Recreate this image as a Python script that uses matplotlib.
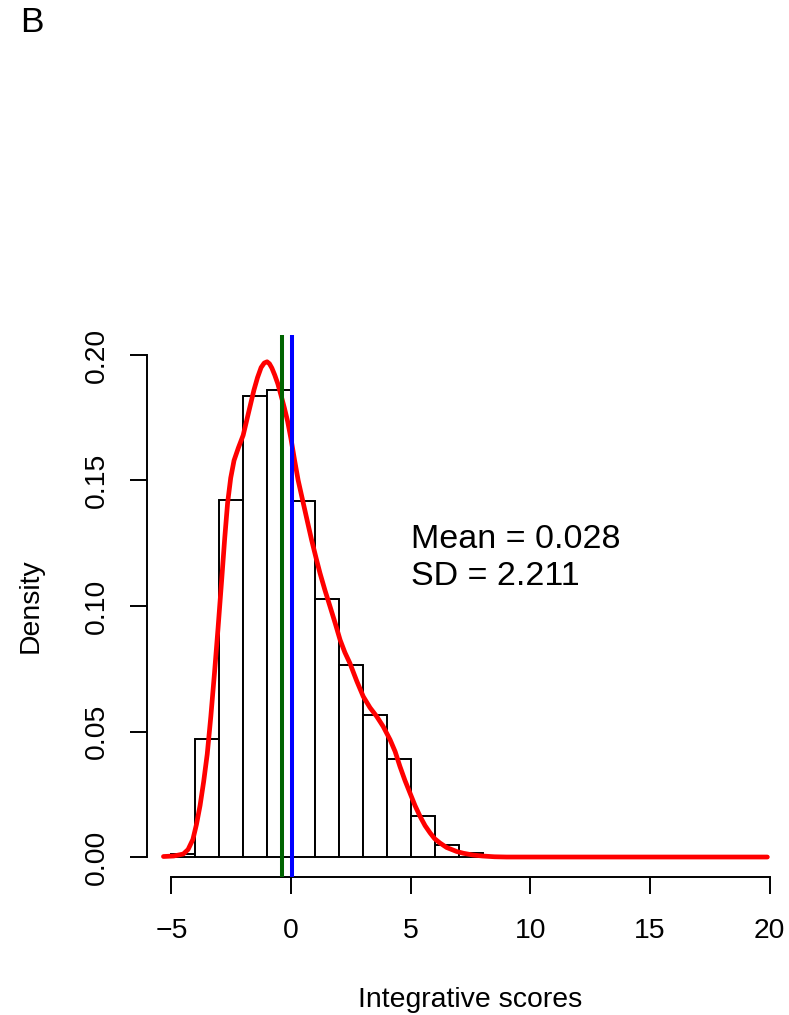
import matplotlib
matplotlib.use("Agg")
import matplotlib.pyplot as plt

plt.rcParams['font.family'] = ['Liberation Sans', 'DejaVu Sans']

# histogram of integrative scores (density scale, bin width 1)
bin_left = [-5, -4, -3, -2, -1, 0, 1, 2, 3, 4, 5, 6, 7]
bin_density = [0.0014, 0.0471, 0.1423, 0.1838, 0.1862, 0.1420, 0.1027,
               0.0766, 0.0567, 0.0391, 0.0162, 0.0047, 0.0016]

# kernel density estimate
kde_x = [-5.33, -4.9, -4.5, -4.3, -4.1, -3.95, -3.8, -3.65, -3.5, -3.35,
         -3.2, -3.05, -2.9, -2.77, -2.65, -2.52, -2.38, -2.2, -2.0, -1.85,
         -1.7, -1.55, -1.4, -1.25, -1.12, -1.0, -0.9, -0.8, -0.68, -0.55,
         -0.42, -0.28, -0.14, 0.0, 0.15, 0.3, 0.5, 0.7, 0.86, 1.05,
         1.21, 1.42, 1.63, 1.85, 2.05, 2.25, 2.46, 2.75, 3.02, 3.3,
         3.58, 3.85, 4.14, 4.35, 4.55, 4.76, 4.97, 5.18, 5.39, 5.6,
         5.81, 6.0, 6.22, 6.5, 6.92, 7.2, 7.6, 8.0, 8.5, 9.0,
         10.0, 19.9]
kde_y = [0.0002, 0.0004, 0.0012, 0.0030, 0.0070, 0.0130, 0.0205, 0.0300, 0.0410, 0.0560,
         0.0730, 0.0910, 0.1100, 0.1270, 0.1410, 0.1510, 0.1580, 0.1630, 0.1680, 0.1740,
         0.1800, 0.1860, 0.1910, 0.1950, 0.1968, 0.1973, 0.1965, 0.1948, 0.1920, 0.1885,
         0.1840, 0.1790, 0.1735, 0.1665, 0.1580, 0.1500, 0.1415, 0.1330, 0.1263, 0.1190,
         0.1131, 0.1062, 0.0998, 0.0930, 0.0865, 0.0815, 0.0772, 0.0700, 0.0639, 0.0595,
         0.0560, 0.0520, 0.0467, 0.0420, 0.0361, 0.0305, 0.0255, 0.0205, 0.0162, 0.0125,
         0.0096, 0.0073, 0.0056, 0.0038, 0.0022, 0.0015, 0.0008, 0.0004, 0.0001, 0.0,
         0.0, 0.0]

score_mean = 0.028
score_median = -0.365
score_sd = 2.211

x_ticks = [-5, 0, 5, 10, 15, 20]
y_ticks = [0.00, 0.05, 0.10, 0.15, 0.20]
y_ticklabels = ['0.00', '0.05', '0.10', '0.15', '0.20']

W, H = 789, 1015
fig = plt.figure(figsize=(W / 100, H / 100), dpi=100)
ax = fig.add_axes([147.4 / W, (H - 877.3) / H, (793.7 - 147.4) / W, 542.6 / H])

ax.bar(bin_left, bin_density, width=1, align='edge', color='white',
       edgecolor='black', linewidth=1.4, zorder=2)
ax.plot(kde_x, kde_y, color='#ff0000', linewidth=3.4, zorder=3,
        solid_joinstyle='round', solid_capstyle='round')
ax.axvline(score_median, color='#006400', linewidth=2.9, zorder=4)
ax.axvline(score_mean, color='#0000ff', linewidth=2.9, zorder=4)

ax.text(5.0, 0.1230, 'Mean = %.3f' % score_mean, fontsize=24.5,
        ha='left', va='baseline')
ax.text(5.0, 0.1084, 'SD = %.3f' % score_sd, fontsize=24.5,
        ha='left', va='baseline')

ax.set_xlim(-6, 21)
ax.set_ylim(-0.00808, 0.20808)

# R-style axes: only the left and bottom lines, limited to the tick range
for side in ['top', 'right']:
    ax.spines[side].set_visible(False)
ax.spines['left'].set_bounds(0, 0.2)
ax.spines['bottom'].set_bounds(-5, 20)
for side in ['left', 'bottom']:
    ax.spines[side].set_linewidth(1.4)

ax.set_xticks(x_ticks)
ax.set_yticks(y_ticks)
ax.set_yticklabels(y_ticklabels, rotation=90, va='center')
ax.tick_params(axis='both', length=12.2, width=1.4, labelsize=20.4)
ax.tick_params(axis='x', pad=17)
ax.tick_params(axis='y', pad=15)

fig.text(470.6 / W, 1 - 1006.7 / H, 'Integrative scores', fontsize=20.4,
         ha='center', va='baseline')
fig.text(38 / W, 1 - 606 / H, 'Density', fontsize=20.4, rotation=90,
         rotation_mode='anchor', ha='center', va='baseline')
fig.text(20 / W, 1 - 32.3 / H, 'B', fontsize=25.5, ha='left', va='baseline')

fig.savefig('out.png', dpi=100)
